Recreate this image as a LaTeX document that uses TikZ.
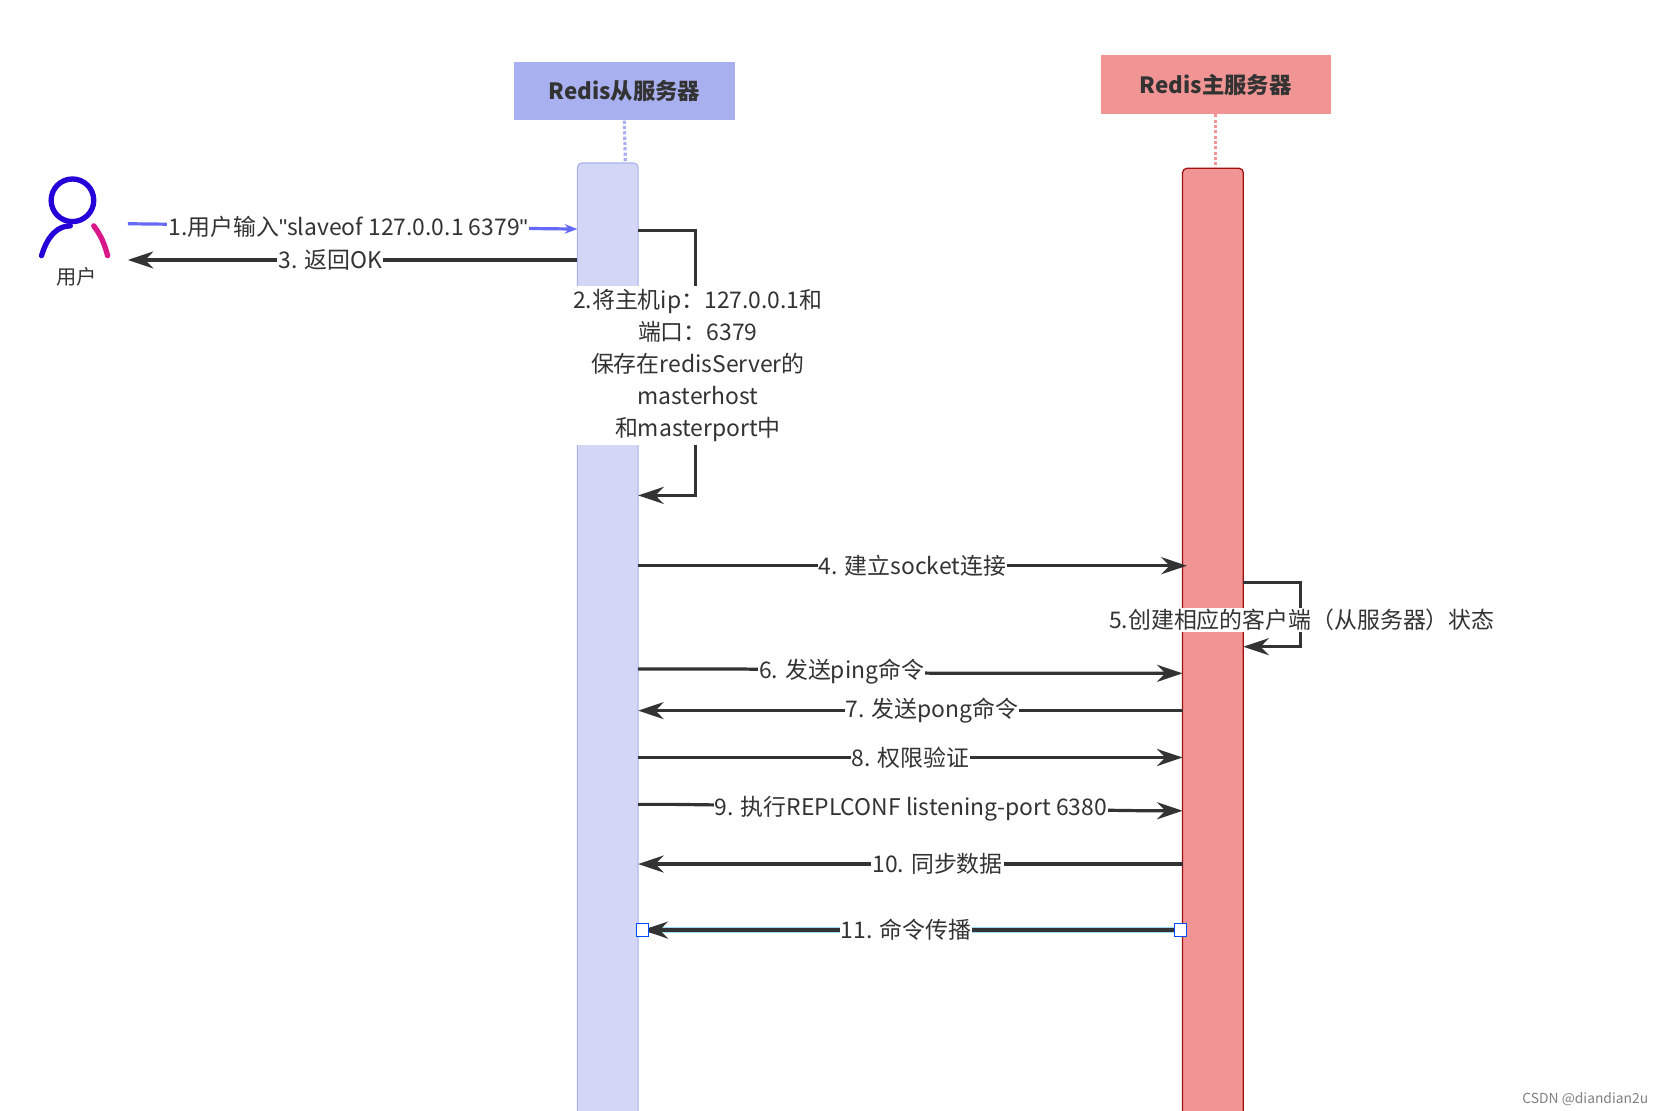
\documentclass[tikz,border=0pt]{standalone}
\usepackage{fontspec}
\setmainfont{Noto Sans CJK SC}
\newfontfamily\lat{Liberation Sans}
\usetikzlibrary{arrows.meta}
\definecolor{slh}{HTML}{A9B0F0}
\definecolor{sll}{HTML}{D3D7F5}
\definecolor{msh}{HTML}{F09494}
\definecolor{msb}{HTML}{A01010}
\definecolor{ln}{HTML}{333333}
\begin{document}
\begin{tikzpicture}[x=1pt,y=-1pt,
  msg/.style={ln,line width=3pt,-{Stealth[length=24pt,width=16pt]}},
  lbl/.style={fill=white,inner sep=1pt,font=\fontsize{21.5}{30}\selectfont,text=ln},
  head/.style={draw=none,font=\bfseries\fontsize{21}{24}\selectfont,text=ln,minimum height=55pt}]
\useasboundingbox (0,0) rectangle (1560,1042);
% headers
\node[head,fill=slh,minimum width=208pt] (hs) at (586,85.5) {Redis从服务器};
\node[head,fill=msh,minimum width=216pt] (hm) at (1141,79.5) {Redis主服务器};
% lifelines
\draw[slh,line width=1pt,fill=sll,rounded corners=4pt] (542,1060) -- (542,153) -- (599,153) -- (599,1060);
\draw[msb,line width=1.2pt,fill=msh,rounded corners=4pt] (1110,1060) -- (1110,158) -- (1167,158) -- (1167,1060);
\coordinate (st) at (587,153); \coordinate (mt) at (1141,158);
\draw[slh,dotted,line width=3pt] (hs.south) -- (st);
\draw[msh,dotted,line width=3pt] (hm.south) -- (mt);
% user
\draw[color=blue!70!violet,line width=5pt] (68,188) circle (20pt);
\draw[color=blue!70!violet,line width=5pt,line cap=round] (39,240) .. controls (45,220) and (55,212) .. (66,212);
\draw[color=magenta!80!violet,line width=5pt,line cap=round] (88,212) .. controls (94,220) and (98,228) .. (101,240);
\node[font=\fontsize{19}{22}\selectfont,text=ln] (user) at (72,260) {用户};
\coordinate (u1) at (120,210); \coordinate (u3) at (120,244);
\coordinate (s1) at (542,215); \coordinate (s3) at (542,244);
% 1
\draw[slh!60!blue,line width=3pt,-{Stealth[length=12pt,width=9pt]}] (u1) -- (s1) node[lbl,pos=0.49] {1.用户输入{\lat"}slaveof 127.0.0.1 6379{\lat"}};
% 3
\draw[msg] (s3) -- (u3) node[lbl,pos=0.55] {3. 返回OK};
% 2 self loop
\coordinate (a2) at (599,216); \coordinate (b2) at (599,465);
\draw[msg] (a2) -- (653,216) -- (653,465) -- (b2);
\node[lbl,align=center,fill=white,inner sep=3pt] (l2) at (655,343) {2.将主机ip：127.0.0.1和\\端口：6379\\保存在redisServer的\\masterhost\\和masterport中};
% messages
\coordinate (s4) at (599,531); \coordinate (m4) at (1114,531);
\draw[msg] (s4) -- (m4) node[lbl,pos=0.5] {4. 建立socket连接};
\coordinate (a5) at (1167,547); \coordinate (b5) at (1167,607);
\draw[msg] (a5) -- (1221,547) -- (1221,607) -- (b5);
\node[lbl] (l5) at (1222,582) {5.创建相应的客户端（从服务器）状态};
\coordinate (s6) at (599,628); \coordinate (m6) at (1110,632);
\draw[msg] (s6) -- (700,628) -- (880,632) -- (m6);
\node[lbl] (l6) at (790,630) {6. 发送ping命令};
\coordinate (s7) at (599,667); \coordinate (m7) at (1110,667);
\draw[msg] (m7) -- (s7) node[lbl,pos=0.46] {7. 发送pong命令};
\coordinate (s8) at (599,711); \coordinate (m8) at (1110,711);
\draw[msg] (s8) -- (m8) node[lbl,pos=0.5] {8. 权限验证};
\coordinate (s9) at (599,755); \coordinate (m9) at (1110,761);
\draw[msg] (s9) -- (633,755) -- (1075,761) -- (m9);
\node[lbl] (l9) at (855,759) {9. 执行REPLCONF listening-port 6380};
\coordinate (s10) at (599,811); \coordinate (m10) at (1110,811);
\draw[msg] (m10) -- (s10) node[lbl,pos=0.45] {10. 同步数据};
\coordinate (s11) at (603,873); \coordinate (m11) at (1108,873);
\draw[cyan!40,line width=6pt] (m11) -- (s11);
\draw[msg] (m11) -- (s11) node[lbl,pos=0.51] {11. 命令传播};
\draw[blue!70!cyan,fill=white,line width=1pt] (597,867) rectangle (609,879);
\draw[blue!70!cyan,fill=white,line width=1pt] (1102,867) rectangle (1114,879);
\node[text=gray,font=\fontsize{13}{15}\selectfont] (wm) at (1488,1032) {CSDN @diandian2u};
\end{tikzpicture}
\end{document}
